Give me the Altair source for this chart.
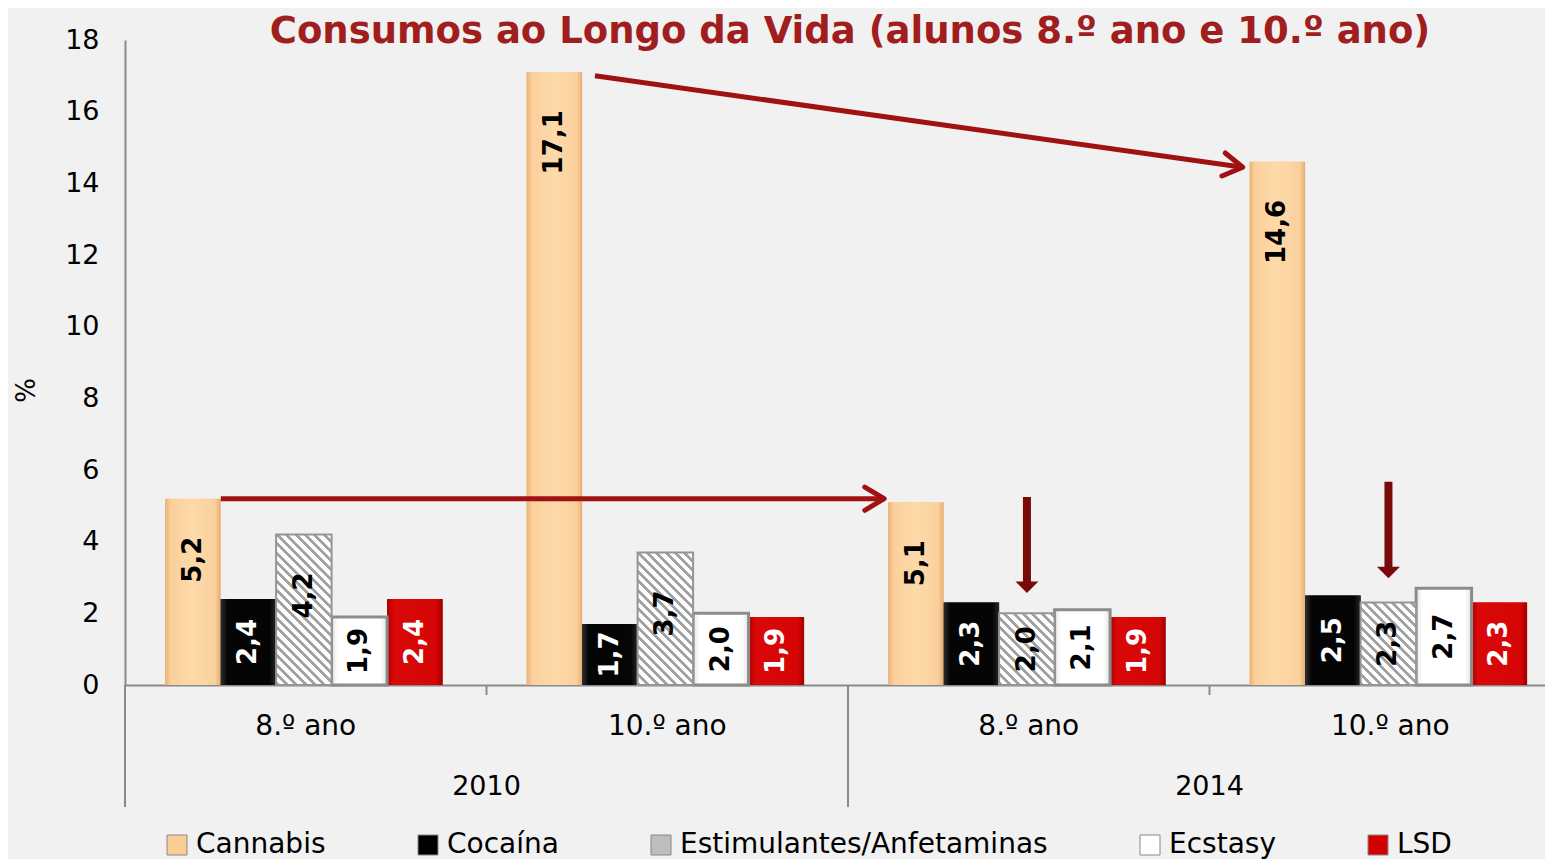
import math
import altair as alt
import pandas as pd

# ---------------- data ----------------
anos = ["2010", "2010", "2014", "2014"]
turmas = ["8.º ano", "10.º ano", "8.º ano", "10.º ano"]
series = ["Cannabis", "Cocaína", "Estimulantes/Anfetaminas", "Ecstasy", "LSD"]
cannabis = [5.2, 17.1, 5.1, 14.6]
cocaina = [2.4, 1.7, 2.3, 2.5]
estimulantes = [4.2, 3.7, 2.0, 2.3]
ecstasy = [1.9, 2.0, 2.1, 2.7]
lsd = [2.4, 1.9, 1.9, 2.3]
y_ticks = [0, 2, 4, 6, 8, 10, 12, 14, 16, 18]
ano_labels = ["2010", "2014"]
titulo = "Consumos ao Longo da Vida (alunos 8.º ano e 10.º ano)"

# arrows (data units: x in group units, y in %)
seta_x0 = [0.265, 1.300]
seta_y0 = [5.2, 17.0]
seta_x1 = [2.100, 3.092]
seta_y1 = [5.2, 14.45]
seta_v_x = [2.495, 3.495]
seta_v_top = [5.25, 5.67]
seta_v_tip = [2.57, 2.98]

# ---------------- layout / style ----------------
W, H = 1420, 645
GROUP_PX = 361.5
XMAX = W / GROUP_PX
PX_Y = H / 18.0
BAR_START = 0.111
BAR_W = 0.1535
FONT = "DejaVu Sans"
AXIS_GRAY = "#8A8A8A"
DARK_RED = "#A01212"
VDARK_RED = "#780A0A"
TITLE_RED = "#A01E1E"

values = [cannabis, cocaina, estimulantes, ecstasy, lsd]
rows = []
for g in range(4):
    for i, s in enumerate(series):
        v = values[i][g]
        x0 = g + BAR_START + i * BAR_W
        rows.append({
            "g": g, "serie": s, "v": v, "x0": x0, "x1": x0 + BAR_W,
            "xm": x0 + BAR_W / 2, "lab": f"{v:.1f}".replace(".", ","),
        })
df = pd.DataFrame(rows)

xscale = alt.Scale(domain=[0, XMAX], nice=False, zero=False)
yscale = alt.Scale(domain=[0, 18], nice=False)

base = alt.Chart(df)

bars = base.mark_bar(strokeWidth=0).encode(
    x=alt.X("x0:Q", scale=xscale,
            axis=alt.Axis(labels=False, ticks=False, grid=False, title=None,
                          domainColor=AXIS_GRAY, domainWidth=2)),
    x2="x1:Q",
    y=alt.Y("v:Q", scale=yscale,
            axis=alt.Axis(values=y_ticks, grid=False, ticks=False, labelPadding=26,
                          labelFontSize=27, labelColor="#000000", labelFont=FONT,
                          domainColor=AXIS_GRAY, domainWidth=2,
                          title="%", titleFontSize=26, titleFontWeight="normal",
                          titleColor="#000000", titleX=-86, titleY=350)),
    y2=alt.datum(0),
    color=alt.Color("serie:N",
                    scale=alt.Scale(domain=series,
                                    range=["#F9CD94", "#000000", "#BDBDBD", "#FFFFFF", "#D40000"]),
                    sort=series,
                    legend=alt.Legend(title=None, orient="none", legendX=38, legendY=791,
                                      direction="horizontal", symbolType="square",
                                      symbolSize=400, symbolStrokeColor="#888888",
                                      symbolStrokeWidth=1, symbolOpacity=1,
                                      labelFontSize=28, labelFont=FONT, labelColor="#000000",
                                      labelOffset=5, columnPadding=88, labelLimit=600)),
)


def grad(stops, x1=0, y1=0, x2=1, y2=0):
    return alt.LinearGradient(
        gradient="linear",
        stops=[alt.GradientStop(offset=o, color=c) for o, c in stops],
        x1=x1, y1=y1, x2=x2, y2=y2,
    )


def overlay(serie, fill, **kw):
    return base.transform_filter(alt.datum.serie == serie).mark_bar(fill=fill, **kw).encode(
        x="x0:Q", x2="x1:Q", y="v:Q", y2=alt.datum(0))


ov_cannabis = overlay("Cannabis", grad([(0, "#EAB275"), (0.1, "#FAD09C"), (0.5, "#FDDAA9"),
                                         (0.9, "#FAD09C"), (1, "#E6AD72")]), strokeWidth=0)
ov_coca = overlay("Cocaína", grad([(0, "#2E2E2E"), (0.12, "#050505"), (0.88, "#050505"),
                                    (1, "#262626")]), strokeWidth=0)
ov_lsd = overlay("LSD", grad([(0, "#A80000"), (0.12, "#DA0808"), (0.88, "#D60606"),
                               (1, "#A00000")]), strokeWidth=0)
ov_ecst = overlay("Ecstasy", grad([(0, "#E6E6E6"), (0.12, "#FFFFFF"), (0.88, "#FFFFFF"),
                                    (1, "#E2E2E2")]), stroke="#8C8C8C", strokeWidth=3)

# striped bars: one gradient per bar so that stripes stay at 45 degrees
stripe_layers = []
bar_w_px = BAR_W * GROUP_PX
for g in range(4):
    h_px = estimulantes[g] * PX_Y
    s = (bar_w_px + h_px) / (bar_w_px ** 2 + h_px ** 2)
    span = (bar_w_px + h_px) / math.sqrt(2)
    n = span / 6.6
    stops = []
    k = 0
    while k / n < 1:
        a, b, c = k / n, min((k + 0.42) / n, 1), min((k + 1) / n, 1)
        stops += [(a, "#A3A3A3"), (b, "#A3A3A3"), (b, "#FFFFFF"), (c, "#FFFFFF")]
        k += 1
    fill = grad(stops, x1=0, y1=1, x2=bar_w_px * s, y2=1 - h_px * s)
    stripe_layers.append(
        base.transform_filter((alt.datum.serie == "Estimulantes/Anfetaminas") & (alt.datum.g == g))
        .mark_bar(fill=fill, stroke="#959595", strokeWidth=2)
        .encode(x="x0:Q", x2="x1:Q", y="v:Q", y2=alt.datum(0))
    )

lab_color = alt.condition(alt.FieldOneOfPredicate(field="serie", oneOf=["Cocaína", "LSD"]),
                          alt.value("#FFFFFF"), alt.value("#000000"))

labels_top = base.transform_filter(alt.datum.v >= 3.5).mark_text(
    angle=270, align="right", baseline="middle", dx=-38, font=FONT, fontWeight="bold",
    fontSize=26).encode(x="xm:Q", y="v:Q", text="lab:N", color=lab_color)

labels_mid = base.transform_filter(alt.datum.v < 3.5).transform_calculate(
    ym="datum.v / 2").mark_text(
    angle=270, align="center", baseline="middle", font=FONT, fontWeight="bold",
    fontSize=26).encode(x="xm:Q", y="ym:Q", text="lab:N", color=lab_color)

# arrows
arr = pd.DataFrame({"x0": seta_x0, "y0": seta_y0, "x1": seta_x1, "y1": seta_y1})
arr["ang"] = [math.degrees(math.atan2((a - b) * PX_Y, (d - c) * GROUP_PX)) % 360
              for a, b, c, d in zip(seta_y0, seta_y1, seta_x0, seta_x1)]
arrow_lines = alt.Chart(arr).mark_rule(color=DARK_RED, strokeWidth=5).encode(
    x="x0:Q", y="y0:Q", x2="x1:Q", y2="y1:Q")
arrow_heads = alt.Chart(arr).mark_point(
    shape="M -1 -0.6 L 0 0 L -1 0.6", filled=False, stroke=DARK_RED, strokeWidth=5,
    size=1500, opacity=1, strokeCap="round", strokeJoin="round").encode(
    x="x1:Q", y="y1:Q", angle=alt.Angle("ang:Q", scale=None))

varr = pd.DataFrame({"x": seta_v_x, "top": seta_v_top, "tip": seta_v_tip})
varr["base"] = varr["tip"] + 11.0 / PX_Y
v_lines = alt.Chart(varr).mark_rule(color=VDARK_RED, strokeWidth=8).encode(
    x="x:Q", y="top:Q", y2="base:Q")
v_heads = alt.Chart(varr).mark_point(
    shape="M -1 -1 L 1 -1 L 0 0 Z", filled=True, fill=VDARK_RED, strokeWidth=0,
    size=529, opacity=1).encode(x="x:Q", y="tip:Q")

# axis decorations: group ticks, year separator, axis extension
sep = pd.DataFrame({"x": [1, 3]})
short_ticks = alt.Chart(sep).mark_rule(color=AXIS_GRAY, strokeWidth=2).encode(
    x="x:Q", y=alt.value(H), y2=alt.value(H + 10))
ysep = pd.DataFrame({"x": [0, 2]})
long_ticks = alt.Chart(ysep).mark_rule(color=AXIS_GRAY, strokeWidth=2).encode(
    x="x:Q", y=alt.value(H), y2=alt.value(H + 122))

tl = pd.DataFrame({"x": [g + 0.5 for g in range(4)], "t": turmas})
turma_text = alt.Chart(tl).mark_text(fontSize=28, font=FONT, color="#000000",
                                     baseline="middle").encode(
    x="x:Q", y=alt.value(H + 42), text="t:N")
al = pd.DataFrame({"x": [1, 3], "t": ano_labels})
ano_text = alt.Chart(al).mark_text(fontSize=27, font=FONT, color="#000000",
                                   baseline="middle").encode(
    x="x:Q", y=alt.value(H + 102), text="t:N")

title_df = pd.DataFrame({"t": [titulo]})
title_text = alt.Chart(title_df).mark_text(fontSize=37, font=FONT, fontWeight="bold",
                                           color=TITLE_RED, baseline="middle").encode(
    x=alt.value(725), y=alt.value(-8), text="t:N")

chart = alt.layer(
    bars, ov_cannabis, ov_coca, ov_lsd, ov_ecst, *stripe_layers,
    labels_top, labels_mid, arrow_lines, arrow_heads, v_lines, v_heads,
    short_ticks, long_ticks, turma_text, ano_text, title_text,
).properties(
    width=W, height=H,
    padding={"left": 117, "top": 32, "right": 0, "bottom": 174},
    autosize=alt.AutoSizeParams(type="none"),
    background="#F1F1F1",
).configure(font=FONT).configure_view(strokeWidth=0, stroke="transparent").configure_axis(
    grid=False)

chart.save("out.html", embed_options={"renderer": "svg", "actions": False})
